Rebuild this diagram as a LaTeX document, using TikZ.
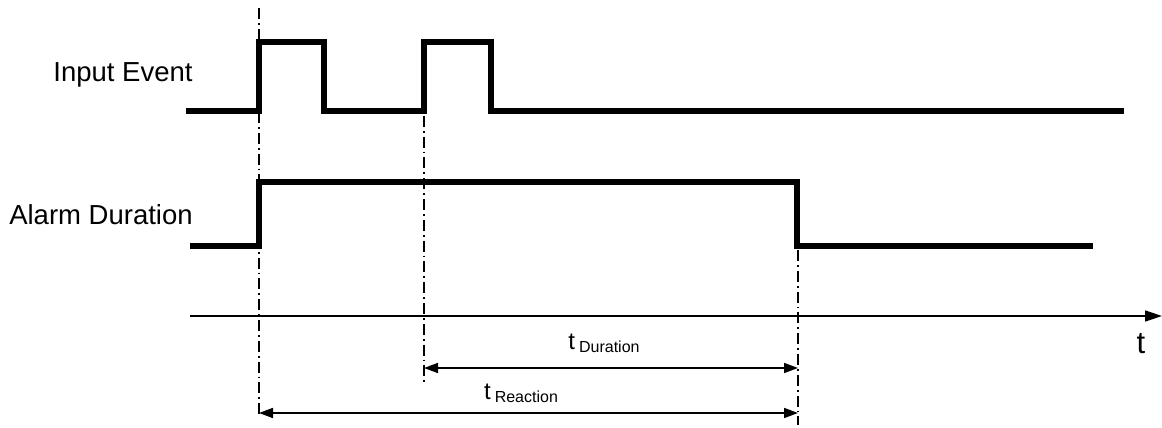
\documentclass[tikz,border=0pt]{standalone}
\usepackage{fontspec}
\setmainfont{Liberation Sans}
\usetikzlibrary{arrows.meta}

\begin{document}
\begin{tikzpicture}[x=1pt, y=1pt, line join=miter,
  signal/.style={line width=5.5pt},
  marker/.style={line width=2.2pt, dash pattern=on 11pt off 4pt on 1.8pt off 4pt},
  span/.style={line width=1.6pt, {Triangle[length=14pt,width=10pt]}-{Triangle[length=14pt,width=10pt]}},
  lbl/.style={inner sep=0pt, font=\fontsize{27.5}{30}\selectfont}]
  \useasboundingbox (0,0) rectangle (1162,428);
  % Signal names.
  \node[lbl] (input) at (123,353) {Input Event};
  \node[lbl] (alarm) at (101,213) {Alarm Duration};
  % Input pulses.
  \draw[signal] (186,317) -- (259,317) -- (259,386) -- (324,386) -- (324,317)
    -- (424,317) -- (424,386) -- (491,386) -- (491,317) -- (1124,317);
  % Alarm output.
  \draw[signal] (190,182) -- (259,182) -- (259,246) -- (797,246) -- (797,182) -- (1093,182);
  % Event markers.
  \foreach \x/\top/\bot in {259/420/13, 424/333/43, 798/178/3} {
    \draw[marker] (\x,\top) -- (\x,\bot);
  }
  % Time axis.
  \coordinate (t0) at (190,112);
  \coordinate (t1) at (1162,112);
  \draw[line width=1.5pt, -{Triangle[length=17pt,width=11pt]}] (t0) -- (t1);
  \node[inner sep=0pt, font=\fontsize{31}{33}\selectfont] (tlabel) at (1141,84) {t};
  % Spans.
  \coordinate (durL) at (424,60);
  \coordinate (durR) at (798,60);
  \coordinate (reaL) at (259,15);
  \coordinate (reaR) at (798,15);
  \draw[span] (durL) -- (durR);
  \draw[span] (reaL) -- (reaR);
  \node[inner sep=0pt, font=\fontsize{24}{26}\selectfont] (tdur) at (604,85)
    {t\,\raisebox{-3pt}{\fontsize{16}{18}\selectfont Duration}};
  \node[inner sep=0pt, font=\fontsize{24}{26}\selectfont] (trea) at (521,35)
    {t\,\raisebox{-3pt}{\fontsize{16}{18}\selectfont Reaction}};
\end{tikzpicture}
\end{document}
